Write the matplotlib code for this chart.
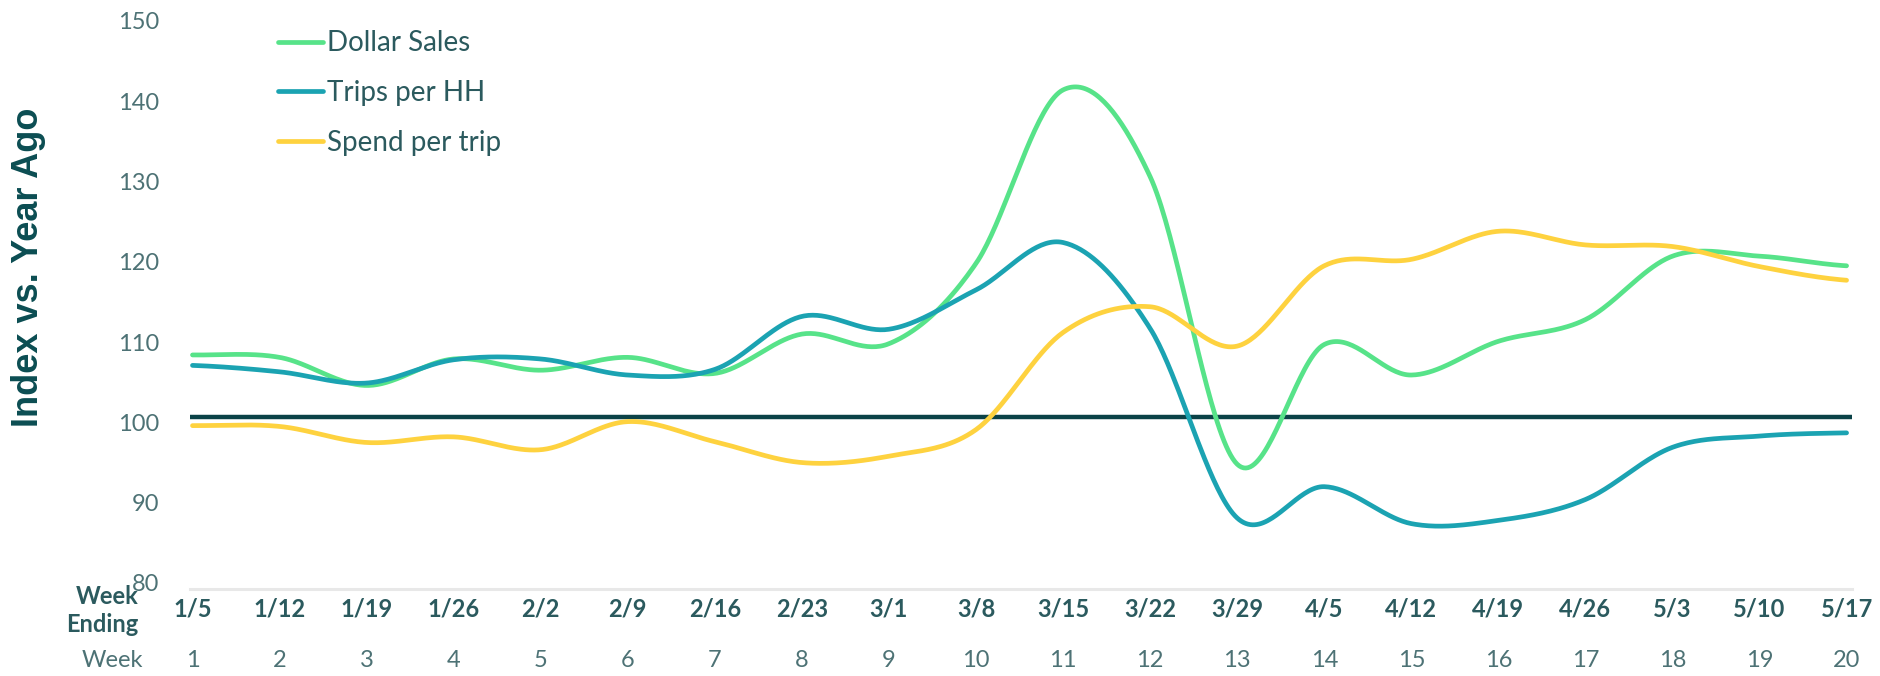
import matplotlib.pyplot as plt
import matplotlib.transforms as mtransforms
import numpy as np
from matplotlib.lines import Line2D

# weekly index vs. year ago
weeks = list(range(1, 21))
week_ending = ["1/5", "1/12", "1/19", "1/26", "2/2", "2/9", "2/16", "2/23", "3/1", "3/8",
               "3/15", "3/22", "3/29", "4/5", "4/12", "4/19", "4/26", "5/3", "5/10", "5/17"]
dollar_sales = [107.7, 107.4, 103.9, 107.2, 105.8, 107.4, 105.4, 110.3, 109.1, 119.1,
                140.7, 129.9, 94.1, 109.0, 105.2, 109.4, 112.1, 120.0, 120.0, 118.8]
trips_per_hh = [106.4, 105.6, 104.2, 107.1, 107.2, 105.2, 105.9, 112.5, 110.9, 115.8,
                121.7, 111.0, 87.4, 91.3, 86.7, 87.1, 89.7, 96.2, 97.6, 98.0]
spend_per_trip = [98.9, 98.8, 96.8, 97.5, 95.9, 99.4, 96.9, 94.3, 95.1, 98.4,
                  110.5, 113.7, 108.8, 118.8, 119.6, 123.1, 121.4, 121.2, 118.7, 117.0]
baseline = 100

GREEN = "#57e389"
BLUE = "#1ba3b2"
YELLOW = "#fed23f"
DARK = "#0b4247"
TEXT = "#2b5a5e"
TICK = "#4d7275"


def smooth(x, y, n=40):
    # catmull-rom through every point, like a spreadsheet "smoothed line"
    x = np.asarray(x, float)
    y = np.asarray(y, float)
    px = np.r_[x[0], x, x[-1]]
    py = np.r_[y[0], y, y[-1]]
    xs, ys = [], []
    t = np.linspace(0, 1, n, endpoint=False)
    for i in range(1, len(px) - 2):
        p0, p1, p2, p3 = py[i - 1], py[i], py[i + 1], py[i + 2]
        m1 = (p2 - p0) / 2
        m2 = (p3 - p1) / 2
        h00 = 2 * t**3 - 3 * t**2 + 1
        h10 = t**3 - 2 * t**2 + t
        h01 = -2 * t**3 + 3 * t**2
        h11 = t**3 - t**2
        ys.append(h00 * p1 + h10 * m1 + h01 * p2 + h11 * m2)
        xs.append(px[i] + t * (px[i + 1] - px[i]))
    xs.append([x[-1]])
    ys.append([y[-1]])
    return np.concatenate(xs), np.concatenate(ys)


plt.rcParams['font.family'] = ['Lato', 'DejaVu Sans']

fig = plt.figure(figsize=(18.8, 6.76), dpi=100)
ax = fig.add_axes([0.101, 0.128, 0.884, 0.859])

ax.axhline(baseline, color=DARK, lw=3.2, zorder=1)
for vals, color, label in [(dollar_sales, GREEN, "Dollar Sales"),
                           (trips_per_hh, BLUE, "Trips per HH"),
                           (spend_per_trip, YELLOW, "Spend per trip")]:
    sx, sy = smooth(weeks, vals)
    ax.plot(sx, sy, color=color, lw=3.4, solid_capstyle='round', zorder=3, label=label)

ax.set_xlim(0.97, 20.06)
ax.set_ylim(78.5, 150.8)
ax.set_yticks(range(80, 151, 10))
ax.tick_params(axis='y', length=0, pad=22, labelsize=17, labelcolor=TICK)
# y labels sit a few pixels low
nudge = mtransforms.ScaledTranslation(0, -4 / 72, fig.dpi_scale_trans)
for lbl in ax.get_yticklabels():
    lbl.set_transform(lbl.get_transform() + nudge)
ax.set_xticks(weeks)
ax.set_xticklabels(week_ending, fontweight='bold', fontsize=17, color=TEXT)
ax.tick_params(axis='x', length=0, pad=6)

for side in ['top', 'right', 'left']:
    ax.spines[side].set_visible(False)
ax.spines['bottom'].set_color('#e8e8e8')
ax.spines['bottom'].set_linewidth(2.2)

# second row: week numbers
xt = ax.get_xaxis_transform()
for w in weeks:
    ax.text(w, -0.122, str(w), transform=xt, ha='center', va='center',
            fontsize=17, color=TICK)
ax.text(-0.028, -0.122, "Week", transform=ax.transAxes, ha='right', va='center',
        fontsize=17, color=TICK)
ax.text(-0.031, -0.036, "Week\nEnding", transform=ax.transAxes, ha='right', va='center',
        fontsize=17, fontweight='bold', color=TEXT, linespacing=1.3)

fig.text(0.015, 0.605, "Index vs. Year Ago", rotation=90, ha='center', va='center',
         fontsize=26, fontweight='bold', color='#0b4d52', family='Liberation Sans')

handles = [Line2D([], [], color=c, lw=3.4, solid_capstyle='round')
           for c in (GREEN, BLUE, YELLOW)]
leg = ax.legend(handles, ["Dollar Sales", "Trips per HH", "Spend per trip"],
                loc='upper left', bbox_to_anchor=(0.148, 0.955),
                bbox_transform=fig.transFigure, frameon=False, fontsize=20,
                handlelength=1.6, handletextpad=0.15, labelspacing=0.85,
                borderpad=0, borderaxespad=0)
for t in leg.get_texts():
    t.set_color(TEXT)

fig.savefig('out.png', dpi=100, facecolor='white')
